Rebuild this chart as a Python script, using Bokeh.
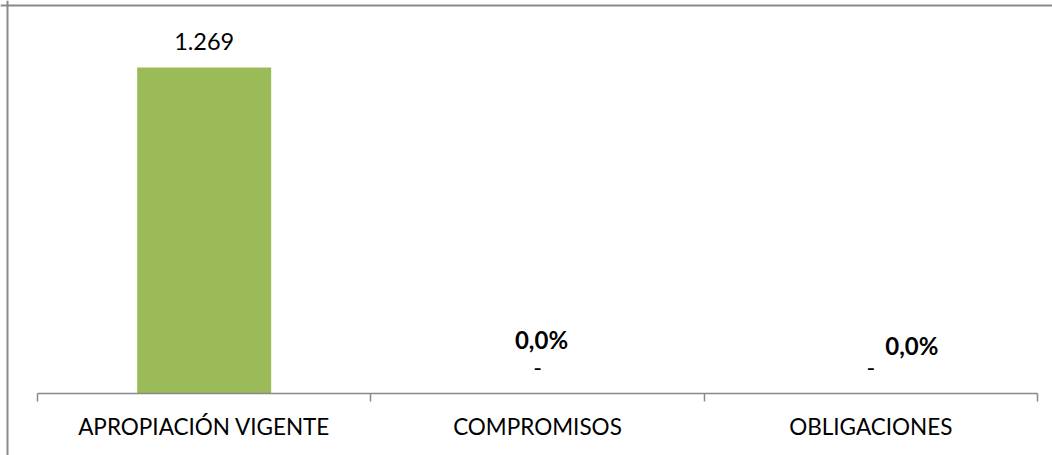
from bokeh.plotting import figure
from bokeh.models import ColumnDataSource, LabelSet, LinearAxis, FixedTicker, Range1d, Span
from bokeh.core.properties import value
from bokeh.embed import file_html
from bokeh.resources import INLINE

# ---- data ----
categories = ["APROPIACIÓN VIGENTE", "COMPROMISOS", "OBLIGACIONES"]
values = [1269, 0, 0]
value_labels = ["1.269", "-", "-"]
pct_labels = ["", "0,0%", "0,0%"]

# ---- layout (screen px) ----
pct_dx = [0, 4, 41]
pct_dy = [0, 54, 48]
W, H = 1052, 455
PX_PER_CAT = 333.33
PX_PER_VAL = 326 / 1269.0
AXIS_PX = 393              # axis line position from top of canvas
LEFT_PX = 37               # first category boundary from left of canvas
BORDER_LEFT_PX = 7
BORDER_TOP_PX = 5

centers = [i + 0.5 for i in range(len(categories))]
boundaries = list(range(len(categories) + 1))

x_range = Range1d(-LEFT_PX / PX_PER_CAT, (W - LEFT_PX) / PX_PER_CAT)
y_range = Range1d(-(H - AXIS_PX) / PX_PER_VAL, AXIS_PX / PX_PER_VAL)

p = figure(width=W, height=H, x_range=x_range, y_range=y_range,
           output_backend="svg", toolbar_location=None,
           x_axis_location=None, y_axis_location=None,
           min_border=0, outline_line_color=None)
p.xgrid.visible = False
p.ygrid.visible = False
p.background_fill_color = "white"
p.border_fill_color = "white"

GREEN = "#9BBB59"
GRAY = "#898989"
FONT = "Lato"

src = ColumnDataSource(dict(x=centers, top=values, lab=value_labels,
                            pct=pct_labels, dx=pct_dx, dy=pct_dy))
p.vbar(x="x", top="top", bottom=0, width=0.402, source=src,
       fill_color=GREEN, line_color=None)

# axis with boundary ticks
ax_ticks = LinearAxis(ticker=FixedTicker(ticks=boundaries), fixed_location=0,
                      bounds=(boundaries[0], boundaries[-1]))
ax_ticks.axis_line_color = GRAY
ax_ticks.axis_line_width = 1.5
ax_ticks.major_tick_line_color = GRAY
ax_ticks.major_tick_line_width = 1.5
ax_ticks.major_tick_in = 0
ax_ticks.major_tick_out = 8
ax_ticks.minor_tick_line_color = None
ax_ticks.major_label_text_alpha = 0
ax_ticks.major_label_text_font_size = "1px"
p.add_layout(ax_ticks, "below")

# axis with category labels
ax_lab = LinearAxis(ticker=FixedTicker(ticks=centers), fixed_location=0)
ax_lab.major_label_overrides = {c: name for c, name in zip(centers, categories)}
ax_lab.axis_line_color = None
ax_lab.major_tick_line_color = None
ax_lab.minor_tick_line_color = None
ax_lab.major_tick_in = 0
ax_lab.major_tick_out = 0
ax_lab.major_label_standoff = 19
ax_lab.major_label_text_font = FONT
ax_lab.major_label_text_font_size = "22.5px"
ax_lab.major_label_text_color = "black"
p.add_layout(ax_lab, "below")

# value labels
p.add_layout(LabelSet(x="x", y="top", text="lab", source=src, y_offset=26,
                      text_align="center", text_baseline="middle",
                      text_font=value(FONT), text_font_size=value("23.5px"),
                      text_color="black"))
# percentage labels
p.add_layout(LabelSet(x="x", y=0, text="pct", source=src, x_offset="dx", y_offset="dy",
                      text_align="center", text_baseline="middle",
                      text_font=value(FONT), text_font_size=value("24px"),
                      text_font_style="bold", text_color="black"))

# chart area border (left and top)
bx = (BORDER_LEFT_PX - LEFT_PX) / PX_PER_CAT
by = (AXIS_PX - BORDER_TOP_PX) / PX_PER_VAL
p.add_layout(Span(location=bx, dimension="height", line_color=GRAY, line_width=2))
p.add_layout(Span(location=by, dimension="width", line_color=GRAY, line_width=2))

open("out.html", "w").write(file_html(p, INLINE))
